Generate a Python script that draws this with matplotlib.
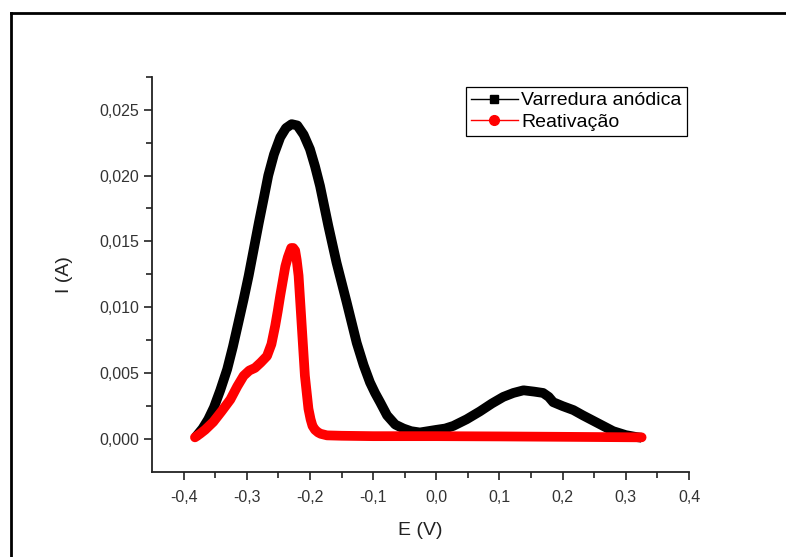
import matplotlib
matplotlib.use('Agg')
import matplotlib.pyplot as plt
from matplotlib.lines import Line2D

plt.rcParams['font.family'] = ['Liberation Sans', 'DejaVu Sans']

# Varredura anodica (black, squares)
black_E = [-0.381, -0.370, -0.361, -0.352, -0.342, -0.331, -0.322, -0.313,
           -0.305, -0.297, -0.289, -0.281, -0.273, -0.266, -0.257, -0.247,
           -0.238, -0.229, -0.220, -0.210, -0.200, -0.192, -0.184, -0.171,
           -0.158, -0.142, -0.126, -0.115, -0.105, -0.097, -0.089, -0.078,
           -0.065, -0.052, -0.040, -0.026, -0.013, 0.000, 0.014, 0.027,
           0.048, 0.069, 0.088, 0.106, 0.122, 0.138, 0.155, 0.169, 0.178,
           0.185, 0.200, 0.217, 0.232, 0.248, 0.264, 0.280, 0.300, 0.317,
           0.325]
black_I = [0.00015, 0.0008, 0.0015, 0.0024, 0.0037, 0.0053, 0.0070, 0.0089,
           0.0106, 0.0124, 0.0144, 0.0164, 0.0183, 0.0200, 0.0216, 0.0229,
           0.0236, 0.0239, 0.0238, 0.0231, 0.0220, 0.0207, 0.0192, 0.0162,
           0.0134, 0.0104, 0.0073, 0.0056, 0.0043, 0.0035, 0.0028, 0.0018,
           0.0011, 0.0008, 0.0006, 0.0005, 0.0006, 0.0007, 0.0008, 0.0010,
           0.0015, 0.0021, 0.0027, 0.0032, 0.0035, 0.0037, 0.0036, 0.0035,
           0.0032, 0.0028, 0.0025, 0.0022, 0.0018, 0.0014, 0.0010, 0.0006,
           0.0003, 0.00015, 0.0001]

# Reativacao (red, circles)
red_E = [-0.382, -0.374, -0.366, -0.353, -0.340, -0.326, -0.315, -0.305,
         -0.296, -0.287, -0.278, -0.268, -0.261, -0.255, -0.251, -0.247,
         -0.243, -0.239, -0.235, -0.232, -0.2297, -0.2265, -0.2234, -0.221,
         -0.218, -0.213, -0.208, -0.2024, -0.199, -0.196, -0.192, -0.187,
         -0.183, -0.173, -0.150, -0.100, 0.000, 0.100, 0.200, 0.325]
red_I = [0.00013, 0.0004, 0.0007, 0.0013, 0.0021, 0.0030, 0.0040, 0.0048,
         0.0052, 0.0054, 0.0058, 0.0063, 0.0072, 0.0086, 0.0097, 0.0109,
         0.0120, 0.0131, 0.0138, 0.0142, 0.0145, 0.0145, 0.0143, 0.0136,
         0.0124, 0.0086, 0.0048, 0.0023, 0.0015, 0.0010, 0.0007, 0.0005,
         0.0004, 0.00028, 0.00025, 0.00022, 0.00022, 0.0002, 0.00017,
         0.00013]

x_ticks = [-0.4, -0.3, -0.2, -0.1, 0.0, 0.1, 0.2, 0.3, 0.4]
x_labels = ['-0,4', '-0,3', '-0,2', '-0,1', '0,0', '0,1', '0,2', '0,3', '0,4']
y_ticks = [0.0, 0.005, 0.010, 0.015, 0.020, 0.025]
y_labels = ['0,000', '0,005', '0,010', '0,015', '0,020', '0,025']
series_names = ['Varredura anódica', 'Reativação']

fig = plt.figure(figsize=(7.86, 5.57), dpi=100)
ax = fig.add_axes([0.1934, 0.1526, 0.6832, 0.7097])

ax.plot(black_E, black_I, color='black', lw=7,
        solid_joinstyle='round', solid_capstyle='butt')
ax.plot(red_E, red_I, color='#ff0000', lw=7,
        solid_joinstyle='round', solid_capstyle='round')

ax.set_xlim(-0.45, 0.4)
ax.set_ylim(-0.0025, 0.0275)

ax.set_xticks(x_ticks)
ax.set_xticklabels(x_labels)
ax.set_xticks([-0.35, -0.25, -0.15, -0.05, 0.05, 0.15, 0.25, 0.35], minor=True)
ax.set_yticks(y_ticks)
ax.set_yticklabels(y_labels)
ax.set_yticks([0.0025, 0.0075, 0.0125, 0.0175, 0.0225, 0.0275], minor=True)

for s in ['top', 'right']:
    ax.spines[s].set_visible(False)
for s in ['left', 'bottom']:
    ax.spines[s].set_linewidth(1.3)
    ax.spines[s].set_color('#222222')

ax.tick_params(which='major', direction='out', length=6, width=1.2,
               color='#222222', labelsize=11.5, labelcolor='#333333', pad=3)
ax.tick_params(which='minor', direction='out', length=4, width=1.2,
               color='#222222')
ax.tick_params(axis='x', which='major', pad=7)

ax.set_xlabel('E (V)', fontsize=14, color='#222222', labelpad=12)
ax.set_ylabel('I (A)', fontsize=14, color='#222222', labelpad=19)

handles = [
    Line2D([], [], color='black', lw=1, marker='s', markersize=6),
    Line2D([], [], color='#ff0000', lw=1, marker='o', markersize=7),
]
leg = ax.legend(handles, series_names, loc='upper left',
                bbox_to_anchor=(466 / 786, 1 - 87 / 557),
                bbox_transform=fig.transFigure, borderaxespad=0,
                fontsize=14, frameon=True, fancybox=False, framealpha=1,
                edgecolor='black', handlelength=2.4, handletextpad=0.2,
                labelspacing=0.2, borderpad=0.25)
leg.get_frame().set_linewidth(0.9)

# outer border of the picture (top and left edges visible)
fig.add_artist(Line2D([10.5 / 786, 1], [1 - 12.5 / 557, 1 - 12.5 / 557],
                      color='black', lw=2, transform=fig.transFigure))
fig.add_artist(Line2D([10.5 / 786, 10.5 / 786], [0, 1 - 12.5 / 557],
                      color='black', lw=2, transform=fig.transFigure))

fig.savefig('out.png', dpi=100)
